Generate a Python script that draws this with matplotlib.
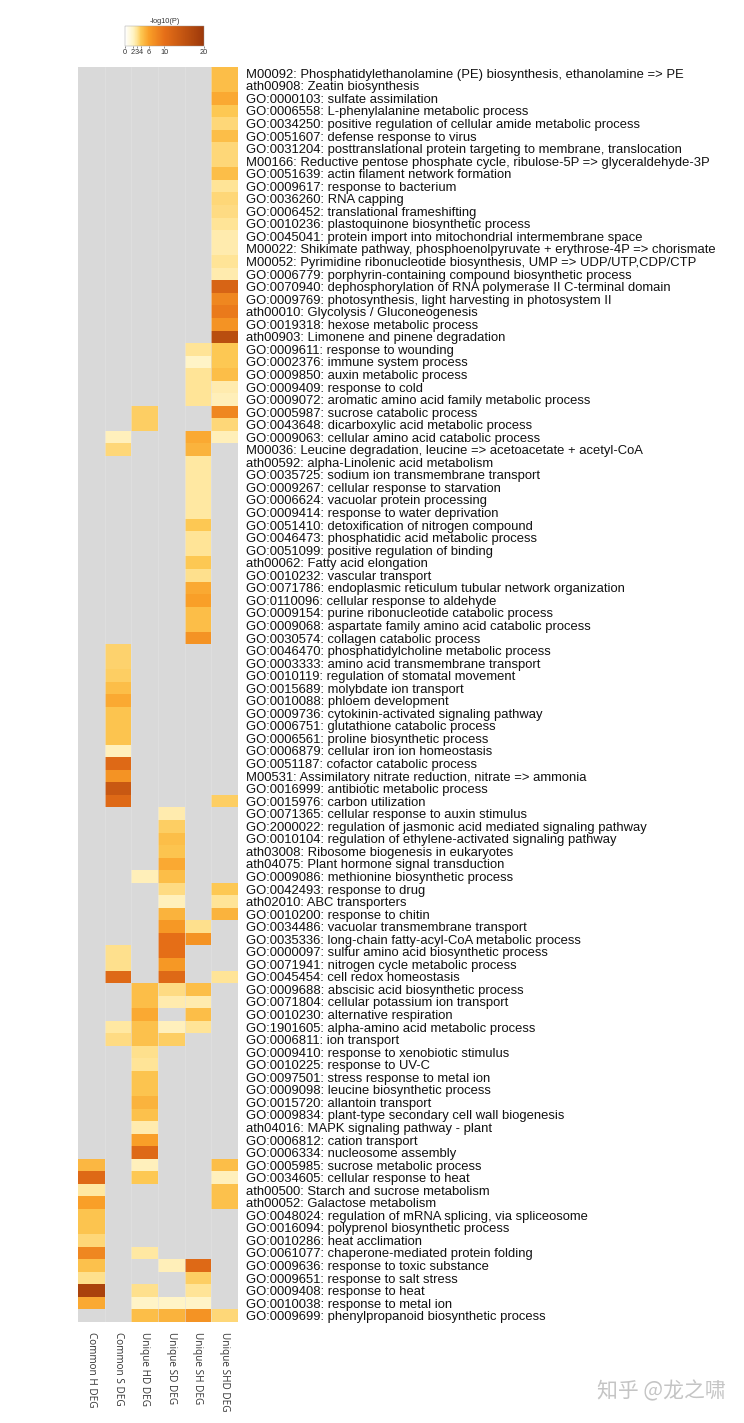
import numpy as np
import matplotlib
matplotlib.use("Agg")
import matplotlib.pyplot as plt
from matplotlib.colors import LinearSegmentedColormap

# enriched terms, top to bottom
terms = [
    "M00092: Phosphatidylethanolamine (PE) biosynthesis, ethanolamine => PE",
    "ath00908: Zeatin biosynthesis",
    "GO:0000103: sulfate assimilation",
    "GO:0006558: L-phenylalanine metabolic process",
    "GO:0034250: positive regulation of cellular amide metabolic process",
    "GO:0051607: defense response to virus",
    "GO:0031204: posttranslational protein targeting to membrane, translocation",
    "M00166: Reductive pentose phosphate cycle, ribulose-5P => glyceraldehyde-3P",
    "GO:0051639: actin filament network formation",
    "GO:0009617: response to bacterium",
    "GO:0036260: RNA capping",
    "GO:0006452: translational frameshifting",
    "GO:0010236: plastoquinone biosynthetic process",
    "GO:0045041: protein import into mitochondrial intermembrane space",
    "M00022: Shikimate pathway, phosphoenolpyruvate + erythrose-4P => chorismate",
    "M00052: Pyrimidine ribonucleotide biosynthesis, UMP => UDP/UTP,CDP/CTP",
    "GO:0006779: porphyrin-containing compound biosynthetic process",
    "GO:0070940: dephosphorylation of RNA polymerase II C-terminal domain",
    "GO:0009769: photosynthesis, light harvesting in photosystem II",
    "ath00010: Glycolysis / Gluconeogenesis",
    "GO:0019318: hexose metabolic process",
    "ath00903: Limonene and pinene degradation",
    "GO:0009611: response to wounding",
    "GO:0002376: immune system process",
    "GO:0009850: auxin metabolic process",
    "GO:0009409: response to cold",
    "GO:0009072: aromatic amino acid family metabolic process",
    "GO:0005987: sucrose catabolic process",
    "GO:0043648: dicarboxylic acid metabolic process",
    "GO:0009063: cellular amino acid catabolic process",
    "M00036: Leucine degradation, leucine => acetoacetate + acetyl-CoA",
    "ath00592: alpha-Linolenic acid metabolism",
    "GO:0035725: sodium ion transmembrane transport",
    "GO:0009267: cellular response to starvation",
    "GO:0006624: vacuolar protein processing",
    "GO:0009414: response to water deprivation",
    "GO:0051410: detoxification of nitrogen compound",
    "GO:0046473: phosphatidic acid metabolic process",
    "GO:0051099: positive regulation of binding",
    "ath00062: Fatty acid elongation",
    "GO:0010232: vascular transport",
    "GO:0071786: endoplasmic reticulum tubular network organization",
    "GO:0110096: cellular response to aldehyde",
    "GO:0009154: purine ribonucleotide catabolic process",
    "GO:0009068: aspartate family amino acid catabolic process",
    "GO:0030574: collagen catabolic process",
    "GO:0046470: phosphatidylcholine metabolic process",
    "GO:0003333: amino acid transmembrane transport",
    "GO:0010119: regulation of stomatal movement",
    "GO:0015689: molybdate ion transport",
    "GO:0010088: phloem development",
    "GO:0009736: cytokinin-activated signaling pathway",
    "GO:0006751: glutathione catabolic process",
    "GO:0006561: proline biosynthetic process",
    "GO:0006879: cellular iron ion homeostasis",
    "GO:0051187: cofactor catabolic process",
    "M00531: Assimilatory nitrate reduction, nitrate => ammonia",
    "GO:0016999: antibiotic metabolic process",
    "GO:0015976: carbon utilization",
    "GO:0071365: cellular response to auxin stimulus",
    "GO:2000022: regulation of jasmonic acid mediated signaling pathway",
    "GO:0010104: regulation of ethylene-activated signaling pathway",
    "ath03008: Ribosome biogenesis in eukaryotes",
    "ath04075: Plant hormone signal transduction",
    "GO:0009086: methionine biosynthetic process",
    "GO:0042493: response to drug",
    "ath02010: ABC transporters",
    "GO:0010200: response to chitin",
    "GO:0034486: vacuolar transmembrane transport",
    "GO:0035336: long-chain fatty-acyl-CoA metabolic process",
    "GO:0000097: sulfur amino acid biosynthetic process",
    "GO:0071941: nitrogen cycle metabolic process",
    "GO:0045454: cell redox homeostasis",
    "GO:0009688: abscisic acid biosynthetic process",
    "GO:0071804: cellular potassium ion transport",
    "GO:0010230: alternative respiration",
    "GO:1901605: alpha-amino acid metabolic process",
    "GO:0006811: ion transport",
    "GO:0009410: response to xenobiotic stimulus",
    "GO:0010225: response to UV-C",
    "GO:0097501: stress response to metal ion",
    "GO:0009098: leucine biosynthetic process",
    "GO:0015720: allantoin transport",
    "GO:0009834: plant-type secondary cell wall biogenesis",
    "ath04016: MAPK signaling pathway - plant",
    "GO:0006812: cation transport",
    "GO:0006334: nucleosome assembly",
    "GO:0005985: sucrose metabolic process",
    "GO:0034605: cellular response to heat",
    "ath00500: Starch and sucrose metabolism",
    "ath00052: Galactose metabolism",
    "GO:0048024: regulation of mRNA splicing, via spliceosome",
    "GO:0016094: polyprenol biosynthetic process",
    "GO:0010286: heat acclimation",
    "GO:0061077: chaperone-mediated protein folding",
    "GO:0009636: response to toxic substance",
    "GO:0009651: response to salt stress",
    "GO:0009408: response to heat",
    "GO:0010038: response to metal ion",
    "GO:0009699: phenylpropanoid biosynthetic process",
]

groups = ["Common H DEG", "Common S DEG", "Unique HD DEG",
          "Unique SD DEG", "Unique SH DEG", "Unique SHD DEG"]

N = None
# -log10(P) per group, 10 terms per line, None = not enriched
common_h = [
    N, N, N, N, N, N, N, N, N, N,
    N, N, N, N, N, N, N, N, N, N,
    N, N, N, N, N, N, N, N, N, N,
    N, N, N, N, N, N, N, N, N, N,
    N, N, N, N, N, N, N, N, N, N,
    N, N, N, N, N, N, N, N, N, N,
    N, N, N, N, N, N, N, N, N, N,
    N, N, N, N, N, N, N, N, N, N,
    N, N, N, N, N, N, N, 4.8, 11, 2.8,
    6, 4.2, 4.2, 3.5, 8, 4.3, 3.2, 18, 5.5, N,
]
common_s = [
    N, N, N, N, N, N, N, N, N, N,
    N, N, N, N, N, N, N, N, N, N,
    N, N, N, N, N, N, N, N, N, 2.2,
    3.5, N, N, N, N, N, N, N, N, N,
    N, N, N, N, N, N, 3.6, 3.6, 3.8, 4.5,
    5.5, 4.2, 4.2, 4.2, 2.2, 11, 7, 14, 11, N,
    N, N, N, N, N, N, N, N, N, N,
    3.2, 3.2, 11, N, N, N, 2.8, 3.3, N, N,
    N, N, N, N, N, N, N, N, N, N,
    N, N, N, N, N, N, N, N, N, N,
]
unique_hd = [
    N, N, N, N, N, N, N, N, N, N,
    N, N, N, N, N, N, N, N, N, N,
    N, N, N, N, N, N, N, 3.8, 3.8, N,
    N, N, N, N, N, N, N, N, N, N,
    N, N, N, N, N, N, N, N, N, N,
    N, N, N, N, N, N, N, N, N, N,
    N, N, N, N, 2.3, N, N, N, N, N,
    N, N, N, 4.5, 4.5, 5.5, 4.3, 4.3, 3.2, 3.0,
    4.2, 4.2, 5, 4.3, 2.5, 6, 11, 2.2, 4, N,
    N, N, N, N, 2.8, N, N, 3.2, 2.0, 4.5,
]
unique_sd = [
    N, N, N, N, N, N, N, N, N, N,
    N, N, N, N, N, N, N, N, N, N,
    N, N, N, N, N, N, N, N, N, N,
    N, N, N, N, N, N, N, N, N, N,
    N, N, N, N, N, N, N, N, N, N,
    N, N, N, N, N, N, N, N, N, 2.5,
    3.8, 4.5, 4.2, 5.5, 4.5, 3.3, 2.2, 5, 6.5, 10,
    10, 6.5, 11, 3.3, 2.5, N, 2.2, 3.8, N, N,
    N, N, N, N, N, N, N, N, N, N,
    N, N, N, N, N, 2.3, N, N, 2.0, 5,
]
unique_sh = [
    N, N, N, N, N, N, N, N, N, N,
    N, N, N, N, N, N, N, N, N, N,
    N, N, 3, 2, 3, 3, 3, N, N, 5.5,
    5, 2.8, 2.8, 2.8, 2.8, 2.8, 4, 3, 3, 4,
    3.2, 5.5, 6, 4.5, 4.5, 7, N, N, N, N,
    N, N, N, N, N, N, N, N, N, N,
    N, N, N, N, N, N, N, N, 3.2, 7,
    N, N, N, 4.5, 2.5, 4.5, 3, N, N, N,
    N, N, N, N, N, N, N, N, N, N,
    N, N, N, N, N, 11, 3.8, 3, 2.0, 7,
]
unique_shd = [
    4.5, 4.5, 5.5, 4, 3.5, 4.5, 3.5, 3.5, 4.5, 3,
    3.5, 3.3, 3, 2.5, 2.5, 3, 2.5, 12, 8, 9,
    7, 16, 4, 4, 4.5, 2.5, 2.3, 8, 3.5, 2.3,
    N, N, N, N, N, N, N, N, N, N,
    N, N, N, N, N, N, N, N, N, N,
    N, N, N, N, N, N, N, N, 3.8, N,
    N, N, N, N, N, 4, 3, 5, N, N,
    N, N, 3, N, N, N, N, N, N, N,
    N, N, N, N, N, N, N, 4.5, 2.2, 4.3,
    4.3, N, N, N, N, N, N, N, N, 3.5,
]

cbar_ticks = [0, 2, 3, 4, 6, 10, 20]

columns = [common_h, common_s, unique_hd, unique_sd, unique_sh, unique_shd]
mat = np.array([[np.nan if v is None else v for v in col] for col in columns]).T

cmap = LinearSegmentedColormap.from_list("logp", [
    (0.0, "#FFFFFF"),
    (0.1, "#FFF4C6"),
    (0.15, "#FFE497"),
    (0.2, "#FDC853"),
    (0.3, "#F99F28"),
    (0.5, "#E66F18"),
    (1.0, "#9C380A"),
])
cmap.set_bad("#D9D9D9")

plt.rcParams["font.family"] = ["Liberation Sans", "DejaVu Sans"]

fig = plt.figure(figsize=(7.44, 14.23), dpi=100)
ax = fig.add_axes([78 / 744, 101 / 1423, 160 / 744, 1255 / 1423])
ax.set_facecolor("#D9D9D9")
im = ax.imshow(np.ma.masked_invalid(mat), cmap=cmap, vmin=0, vmax=20,
               aspect="auto", interpolation="nearest")
for x in np.arange(0.5, len(groups) - 1, 1.0):
    ax.axvline(x, color="#E3E3E3", lw=0.4, zorder=0)

ax.yaxis.tick_right()
ax.set_yticks(range(len(terms)))
ax.set_yticklabels(terms, fontsize=9.4, color="#111111")
ax.set_xticks(range(len(groups)))
ax.set_xticklabels(groups, rotation=-90, fontsize=7.2, color="#333333",
                   va="top", ha="center", family=["Open Sans", "DejaVu Sans"])
ax.tick_params(length=0)
ax.tick_params(axis="y", pad=6)
ax.tick_params(axis="x", pad=7)
for s in ax.spines.values():
    s.set_visible(False)

cax = fig.add_axes([125 / 744, (1423 - 46) / 1423, 79 / 744, 20 / 1423])
cb = fig.colorbar(im, cax=cax, orientation="horizontal", ticks=cbar_ticks)
cb.outline.set_linewidth(0.3)
cb.outline.set_edgecolor("#999999")
cax.tick_params(labelsize=5.3, length=1.5, width=0.4, pad=1, colors="#333333")
cax.set_title("-log10(P)", fontsize=5.3, pad=2, color="#333333")

fig.text(0.975, 0.022, "知乎 @龙之啸", fontsize=15, color="#C4C4C4",
         ha="right", va="center", family=["Noto Sans CJK SC", "DejaVu Sans"])

fig.savefig("out.png", dpi=100)
